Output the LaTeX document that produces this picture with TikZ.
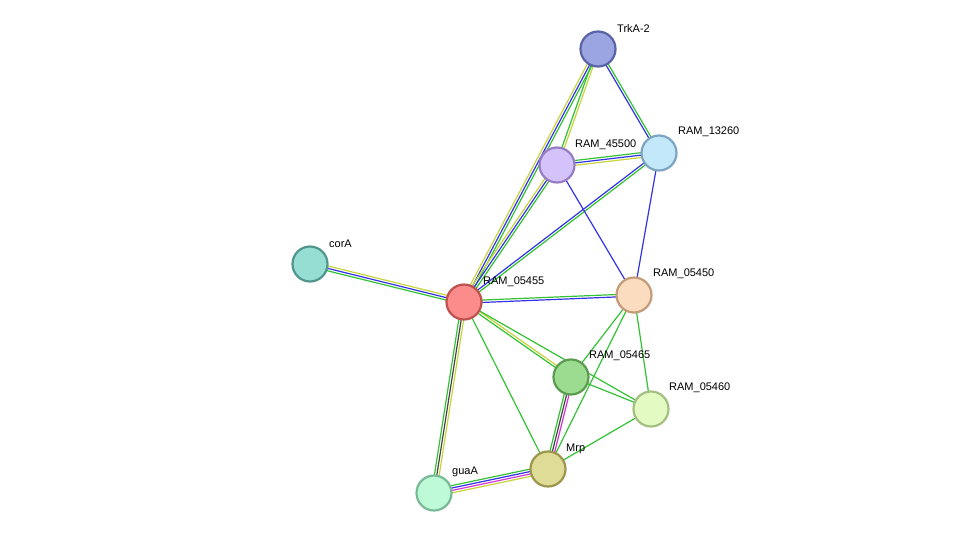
\documentclass[tikz,border=0pt]{standalone}
\usepackage{fontspec}
\setmainfont{Liberation Sans}
\usetikzlibrary{calc}
\definecolor{eg}{HTML}{33C233}
\definecolor{eb}{HTML}{3333E6}
\definecolor{ey}{HTML}{C8D43C}
\definecolor{ek}{HTML}{444444}
\definecolor{em}{HTML}{D633D6}
\newcommand\pe[4]{\draw[#4,line width=1.2pt] ($(#1)!#3!90:(#2)$) -- ($(#2)!#3!-90:(#1)$);}
\begin{document}
\begin{tikzpicture}[x=1pt,y=-1pt,
  prot/.style={circle,draw,line width=2.2pt,minimum size=35pt,inner sep=0pt},
  lab/.style={anchor=south west,font=\fontsize{11}{12}\selectfont,inner sep=1pt}]
\useasboundingbox (0,0) rectangle (975,539);
\coordinate (TrkA) at (598,49);
\coordinate (R13260) at (659,153);
\coordinate (R45500) at (557,165);
\coordinate (corA) at (310,264);
\coordinate (R05455) at (464,302);
\coordinate (R05450) at (634,295);
\coordinate (R05465) at (571,377);
\coordinate (R05460) at (651,409);
\coordinate (Mrp) at (548,469);
\coordinate (guaA) at (434,493);
% edges
\pe{R05455}{TrkA}{-2.4pt}{eg}\pe{R05455}{TrkA}{0pt}{eb}\pe{R05455}{TrkA}{2.4pt}{ey}
\pe{R05455}{R45500}{-2.4pt}{eg}\pe{R05455}{R45500}{0pt}{eb}\pe{R05455}{R45500}{2.4pt}{ey}
\pe{R05455}{R13260}{-1.2pt}{eg}\pe{R05455}{R13260}{1.2pt}{eb}
\pe{R05455}{corA}{-2.4pt}{ey}\pe{R05455}{corA}{0pt}{eb}\pe{R05455}{corA}{2.4pt}{eg}
\pe{R05455}{R05450}{-1.2pt}{eb}\pe{R05455}{R05450}{1.2pt}{eg}
\pe{R05455}{R05465}{-1.2pt}{eg}\pe{R05455}{R05465}{1.2pt}{ey}
\pe{R05455}{R05460}{0pt}{eg}
\pe{R05455}{Mrp}{0pt}{eg}
\pe{R05455}{guaA}{-2.4pt}{eg}\pe{R05455}{guaA}{0pt}{ek}\pe{R05455}{guaA}{2.4pt}{ey}
\pe{TrkA}{R45500}{-1.2pt}{eg}\pe{TrkA}{R45500}{1.2pt}{ey}
\pe{TrkA}{R13260}{-1.2pt}{eb}\pe{TrkA}{R13260}{1.2pt}{eg}
\pe{R45500}{R13260}{-2.4pt}{ey}\pe{R45500}{R13260}{0pt}{eb}\pe{R45500}{R13260}{2.4pt}{eg}
\pe{R45500}{R05450}{0pt}{eb}
\pe{R13260}{R05450}{0pt}{eb}
\pe{R05450}{R05465}{0pt}{eg}
\pe{R05450}{R05460}{0pt}{eg}
\pe{R05450}{Mrp}{0pt}{eg}
\pe{R05465}{R05460}{0pt}{eg}
\pe{R05465}{Mrp}{-2.4pt}{eg}\pe{R05465}{Mrp}{0pt}{ek}\pe{R05465}{Mrp}{2.4pt}{em}
\pe{R05460}{Mrp}{0pt}{eg}
\pe{Mrp}{guaA}{-3.6pt}{eg}\pe{Mrp}{guaA}{-1.2pt}{eb}\pe{Mrp}{guaA}{1.2pt}{em}\pe{Mrp}{guaA}{3.6pt}{ey}
% nodes
\node[prot,fill={rgb,255:red,155;green,165;blue,225},draw={rgb,255:red,90;green,100;blue,165}] (nTrkA) at (TrkA) {};
\node[prot,fill={rgb,255:red,195;green,232;blue,250},draw={rgb,255:red,125;green,165;blue,195}] (n13260) at (R13260) {};
\node[prot,fill={rgb,255:red,212;green,195;blue,250},draw={rgb,255:red,150;green,125;blue,195}] (n45500) at (R45500) {};
\node[prot,fill={rgb,255:red,150;green,222;blue,212},draw={rgb,255:red,80;green,150;blue,140}] (ncorA) at (corA) {};
\node[prot,fill={rgb,255:red,252;green,140;blue,140},draw={rgb,255:red,190;green,80;blue,80}] (n05455) at (R05455) {};
\node[prot,fill={rgb,255:red,252;green,220;blue,190},draw={rgb,255:red,195;green,155;blue,120}] (n05450) at (R05450) {};
\node[prot,fill={rgb,255:red,155;green,220;blue,145},draw={rgb,255:red,90;green,155;blue,80}] (n05465) at (R05465) {};
\node[prot,fill={rgb,255:red,228;green,250;blue,195},draw={rgb,255:red,165;green,190;blue,130}] (n05460) at (R05460) {};
\node[prot,fill={rgb,255:red,222;green,220;blue,150},draw={rgb,255:red,155;green,150;blue,75}] (nMrp) at (Mrp) {};
\node[prot,fill={rgb,255:red,190;green,250;blue,215},draw={rgb,255:red,120;green,185;blue,150}] (nguaA) at (guaA) {};
% labels
\node[lab] at (616,34) {TrkA-2};
\node[lab] at (677,138) {RAM\_13260};
\node[lab] at (574,151) {RAM\_45500};
\node[lab] at (328,249) {corA};
\node[lab] at (482,288) {RAM\_05455};
\node[lab] at (652,280) {RAM\_05450};
\node[lab] at (588,362) {RAM\_05465};
\node[lab] at (668,394) {RAM\_05460};
\node[lab] at (565,455) {Mrp};
\node[lab] at (451,478) {guaA};
\end{tikzpicture}
\end{document}
